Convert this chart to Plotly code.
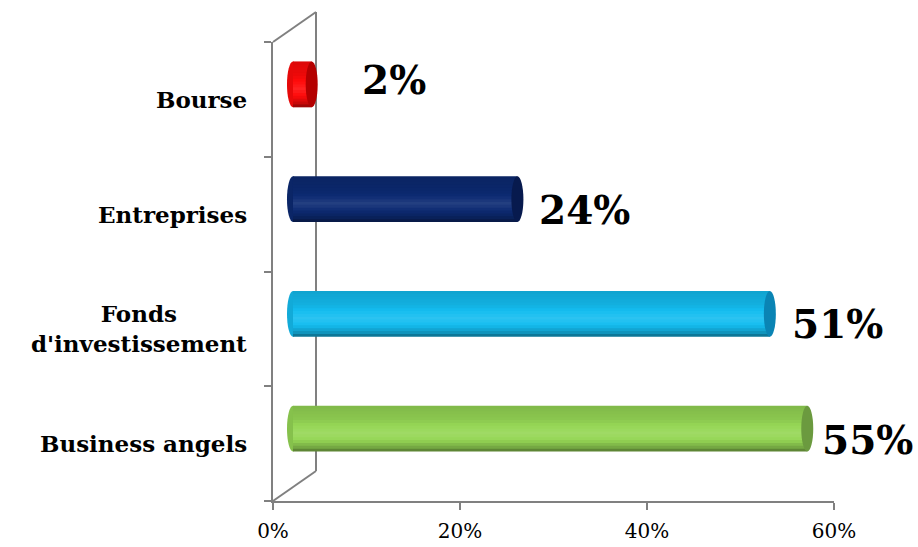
import plotly.graph_objects as go

# ---------------- data ----------------
categories = ["Business angels", "Fonds<br>d'investissement", "Entreprises", "Bourse"]  # bottom -> top
values = [55, 51, 24, 2]
x_tickvals = [0, 20, 40, 60]
x_ticktext = ["0%", "20%", "40%", "60%"]

# ---------------- style ----------------
body_colors = ["#95d655", "#14bdf0", "#0c2a72", "#ff0a0a"]
cap_colors = ["#6b9a3f", "#0a84b4", "#071a4e", "#b40000"]
label_dx = [13, 20, 20, 48]
label_dy = [-11, -10, -11, 4]
W, H = 918, 547
FONT = "DejaVu Serif"
GRAY = "#808080"

# floor (front) plot area in pixels
fx0, fx1, fy_top, fy_bot = 273, 834, 42, 501
# depth of the 3-D box (back wall offset) and bar plane offset (half depth)
depth_dx, depth_dy = 43, 30
bar_dx, bar_dy = 20, 15
XMAX = 60
xpad = 1.5  # extra room left of zero on the bar axis for the rounded bar ends
scale = (fx1 - fx0) / XMAX


def px_dom_x(a, b):
    return [a / W, b / W]


def px_dom_y(top, bot):
    return [1 - bot / H, 1 - top / H]


def shade(hexc, f):
    r, g, b = (int(hexc[i:i + 2], 16) for i in (1, 3, 5))
    if f <= 1:
        r, g, b = r * f, g * f, b * f
    else:
        k = f - 1
        r, g, b = r + (255 - r) * k, g + (255 - g) * k, b + (255 - b) * k
    return "#%02x%02x%02x" % (int(round(r)), int(round(g)), int(round(b)))


def profile(t):
    pts = [(0, 0.86), (0.3, 0.93), (0.6, 1.10), (0.75, 1.0), (0.9, 0.80), (1.0, 0.55)]
    for (t0, f0), (t1, f1) in zip(pts, pts[1:]):
        if t0 <= t <= t1:
            return f0 + (f1 - f0) * (t - t0) / (t1 - t0)
    return pts[-1][1]


fig = go.Figure()

bar_w = 0.4
N = 16
h = bar_w / N
pos = list(range(len(categories)))
ew = 6 / scale  # ellipse half-width in data units

shapes = []
for i, v in enumerate(values):
    # rounded left end
    shapes.append(dict(type="circle", xref="x2", yref="y2", layer="below",
                       x0=-ew, x1=ew, y0=i - bar_w / 2, y1=i + bar_w / 2,
                       fillcolor=shade(body_colors[i], 0.9), line=dict(width=0)))

for k in range(N):
    t = 1 - (k + 0.5) / N  # 0 = top edge, 1 = bottom edge
    wk = h if k == N - 1 else h * 1.7
    fig.add_trace(go.Bar(
        y=pos, x=values, orientation="h",
        width=wk, offset=-bar_w / 2 + k * h,
        marker=dict(color=[shade(c, profile(t)) for c in body_colors], line=dict(width=0)),
        xaxis="x2", yaxis="y2", hoverinfo="skip", showlegend=False,
    ))

for i, v in enumerate(values):
    # darker end cap
    shapes.append(dict(type="circle", xref="x2", yref="y2", layer="above",
                       x0=v - ew, x1=v + ew, y0=i - bar_w / 2, y1=i + bar_w / 2,
                       fillcolor=cap_colors[i], line=dict(width=0)))

# back wall lines (3-D frame)
bx = fx0 + depth_dx
for (xa, ya, xb, yb) in [
    (bx, fy_top - depth_dy, bx, fy_bot - depth_dy),
    (fx0, fy_top, bx, fy_top - depth_dy),
    (fx0, fy_bot, bx, fy_bot - depth_dy),
]:
    shapes.append(dict(type="line", xref="paper", yref="paper", layer="below",
                       x0=xa / W, y0=1 - ya / H, x1=xb / W, y1=1 - yb / H,
                       line=dict(color=GRAY, width=2)))

annotations = []
for i, c in enumerate(categories):
    annotations.append(dict(text=c, xref="paper", yref="y", x=249 / W, y=i,
                            xanchor="right", yanchor="middle", align="center",
                            showarrow=False,
                            font=dict(family=FONT, size=23, color="black", weight="bold")))
for i, v in enumerate(values):
    annotations.append(dict(text=f"{v}%", xref="x2", yref="y2", x=v, y=i,
                            xanchor="left", yanchor="middle", xshift=label_dx[i], yshift=label_dy[i],
                            showarrow=False,
                            font=dict(family=FONT, size=39, color="black", weight="bold")))

fig.update_layout(
    template="none",
    width=W, height=H,
    margin=dict(l=0, r=0, t=0, b=0),
    paper_bgcolor="white", plot_bgcolor="rgba(0,0,0,0)",
    barmode="overlay",
    showlegend=False,
    xaxis=dict(domain=px_dom_x(fx0, fx1), range=[0, XMAX], tickvals=x_tickvals, ticktext=x_ticktext,
               showline=True, linecolor=GRAY, linewidth=2, ticks="outside", ticklen=7,
               tickcolor=GRAY, tickwidth=2, showgrid=False, zeroline=False, automargin=False,
               ticklabelstandoff=4,
               tickfont=dict(family=FONT, size=20, color="black"), anchor="y"),
    yaxis=dict(domain=px_dom_y(fy_top, fy_bot), range=[-0.5, 3.5],
               tickvals=[-0.5, 0.5, 1.5, 2.5, 3.5], showticklabels=False,
               showline=True, linecolor=GRAY, linewidth=2, ticks="outside", ticklen=7,
               tickcolor=GRAY, tickwidth=2, showgrid=False, zeroline=False, automargin=False,
               anchor="x"),
    xaxis2=dict(domain=px_dom_x(fx0 + bar_dx - xpad * scale, fx1 + bar_dx), range=[-xpad, XMAX],
                visible=False, anchor="y2", automargin=False),
    yaxis2=dict(domain=px_dom_y(fy_top - bar_dy, fy_bot - bar_dy), range=[-0.5, 3.5], visible=False,
                anchor="x2", automargin=False),
    shapes=shapes,
    annotations=annotations,
)

fig.write_html("out.html", config={"displayModeBar": False},
               post_script="document.body.style.margin='0';")
